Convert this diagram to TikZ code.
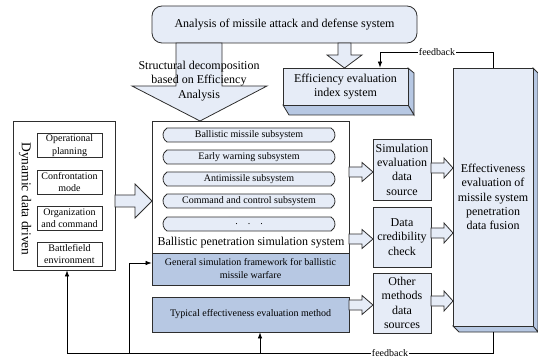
\documentclass[tikz,border=0pt]{standalone}
\usepackage{fontspec}
\setmainfont{Liberation Serif}
\usetikzlibrary{shapes.misc,arrows.meta}
\definecolor{lightfill}{HTML}{E6ECF7}
\definecolor{midfill}{HTML}{B7C8E3}
\definecolor{edge}{HTML}{2E2E2E}
\tikzset{
  box/.style={draw=edge, line width=0.8pt, inner sep=0pt, align=center, text=black},
  lbox/.style={box, fill=lightfill},
  mbox/.style={box, fill=midfill},
  wbox/.style={box, fill=white},
  pill/.style={box, fill=lightfill, rounded rectangle, rounded rectangle arc length=120,
    minimum width=172pt, minimum height=14pt, font=\fontsize{10}{12}\selectfont},
  smallbox/.style={wbox, minimum width=65pt, minimum height=24pt, font=\fontsize{10}{12.5}\selectfont},
  colbox/.style={lbox, minimum width=58pt, font=\fontsize{12}{14.3}\selectfont},
  barrow/.style={draw=edge, line width=0.8pt, fill=lightfill, line join=miter},
  face/.style={draw=edge, line width=0.8pt, fill=midfill, line join=miter},
  fb/.style={draw=black, line width=0.7pt},
  fbarrow/.style={fb, -{Latex[length=6pt,width=4.5pt]}},
  lbl/.style={fill=white, inner sep=1pt, font=\fontsize{10}{12}\selectfont}
}
\newcommand{\hbarrow}[6]{%
  \draw[barrow] (#1,{#4-#5}) -- (#2,{#4-#5}) -- (#2,{#4-#6}) -- (#3,#4) -- (#2,{#4+#6}) -- (#2,{#4+#5}) -- (#1,{#4+#5}) -- cycle;}
\begin{document}
\begin{tikzpicture}[x=1pt,y=-1pt]
\useasboundingbox (0,0) rectangle (538,358);

% top box
\node[lbox, rounded corners=10pt, minimum width=265pt, minimum height=37pt,
  font=\fontsize{12}{14}\selectfont] (top) at (284.5,24.5) {Analysis of missile attack and defense system};

% big down arrow
\draw[barrow] (176,43) -- (222,43) -- (222,86) -- (267,86) -- (200,121) -- (132,86) -- (176,86) -- cycle;
\node[align=center, inner sep=0pt, font=\fontsize{12}{14.5}\selectfont] (decomp) at (199,81)
  {Structural decomposition\\based on Efficiency\\Analysis};

% small down arrow
\draw[barrow] (338,43) -- (351,43) -- (351,55) -- (362,55) -- (344.5,68) -- (327,55) -- (338,55) -- cycle;

% efficiency 3D box
\draw[face] (408,68) -- (414,73) -- (414,115) -- (408,105) -- cycle;
\draw[face] (283,105) -- (408,105) -- (414,115) -- (289,115) -- cycle;
\node[lbox, minimum width=125pt, minimum height=37pt, font=\fontsize{12}{14}\selectfont]
  (eff) at (345.5,86.5) {Efficiency evaluation\\index system};

% big right 3D box
\draw[face] (533,68) -- (538,73) -- (538,332) -- (533,326) -- cycle;
\draw[face] (453,326) -- (533,326) -- (538,332) -- (459,332) -- cycle;
\node[lbox, minimum width=80pt, minimum height=258pt, font=\fontsize{12}{14.3}\selectfont]
  (big) at (493,197) {Effectiveness\\evaluation of\\missile system\\penetration\\data fusion};
\coordinate (bigbot) at (493,332);

% left box
\node[wbox, minimum width=102pt, minimum height=149pt] (left) at (64,195.5) {};
\node[rotate=-90, inner sep=0pt, font=\fontsize{13.5}{16}\selectfont] (dyn) at (25,199) {Dynamic data driven};
\node[smallbox] (op) at (69.5,145.5) {Operational\\planning};
\node[smallbox] (conf) at (69.5,182) {Confrontation\\mode};
\node[smallbox] (org) at (69.5,218) {Organization\\and command};
\node[smallbox] (bat) at (69.5,254) {Battlefield\\environment};

% simulation system box
\node[wbox, minimum width=197pt, minimum height=164pt] (simsys) at (250.5,203) {};
\node[mbox, minimum width=197pt, minimum height=32pt, font=\fontsize{10}{13}\selectfont]
  (band) at (250.5,269) {General simulation framework for ballistic\\missile warfare};
\node[pill] (p1) at (249,135) {Ballistic missile subsystem};
\node[pill] (p2) at (249,157) {Early warning subsystem};
\node[pill] (p3) at (249,179) {Antimissile subsystem};
\node[pill] (p4) at (249,201) {Command and control subsystem};
\node[pill] (p5) at (249,224) {.\quad .\quad .};
\node[inner sep=0pt, font=\fontsize{12}{14}\selectfont] (bpss) at (251,243) {Ballistic penetration simulation system};

% typical box
\node[mbox, minimum width=197pt, minimum height=35pt, font=\fontsize{10}{12}\selectfont]
  (typ) at (250.5,314.5) {Typical effectiveness evaluation method};

% column boxes
\node[colbox, minimum height=61pt] (simev) at (402,169.5) {Simulation\\evaluation\\data\\source};
\node[colbox, minimum height=60pt] (cred) at (402,237) {Data\\credibility\\check};
\node[colbox, minimum height=60pt] (other) at (402,303) {Other\\methods\\data\\sources};

% block arrows
\hbarrow{115}{135}{152}{201}{6}{17}
\hbarrow{349}{362}{373}{172}{5}{9.5}
\hbarrow{349}{362}{373}{239}{5}{9.5}
\hbarrow{349}{362}{373}{305}{5}{9.5}
\hbarrow{431}{444}{453}{168}{5}{10}
\hbarrow{431}{444}{453}{233}{5}{10}
\hbarrow{431}{444}{453}{301}{5}{10}

% top feedback
\coordinate (fbtop) at (380,52);
\draw[fbarrow] (big.north) |- (fbtop) -- (eff.north -| fbtop);
\node[lbl] (fbl1) at (437,52) {feedback};

% bottom feedback
\coordinate (fbr) at (493,353);
\coordinate (fbl) at (67,353);
\coordinate (fbm1) at (129,353);
\coordinate (fbm2) at (260,353);
\coordinate (fbk) at (129,263);
\draw[fb] (bigbot) -- (fbr) -- (fbl);
\draw[fbarrow] (fbl) -- (fbl |- left.south);
\draw[fbarrow] (fbm1) -- (fbk) -- (fbk -| band.west);
\draw[fbarrow] (fbm2) -- (fbm2 |- typ.south);
\node[lbl] (fbl2) at (390,353) {feedback};
\end{tikzpicture}
\end{document}
